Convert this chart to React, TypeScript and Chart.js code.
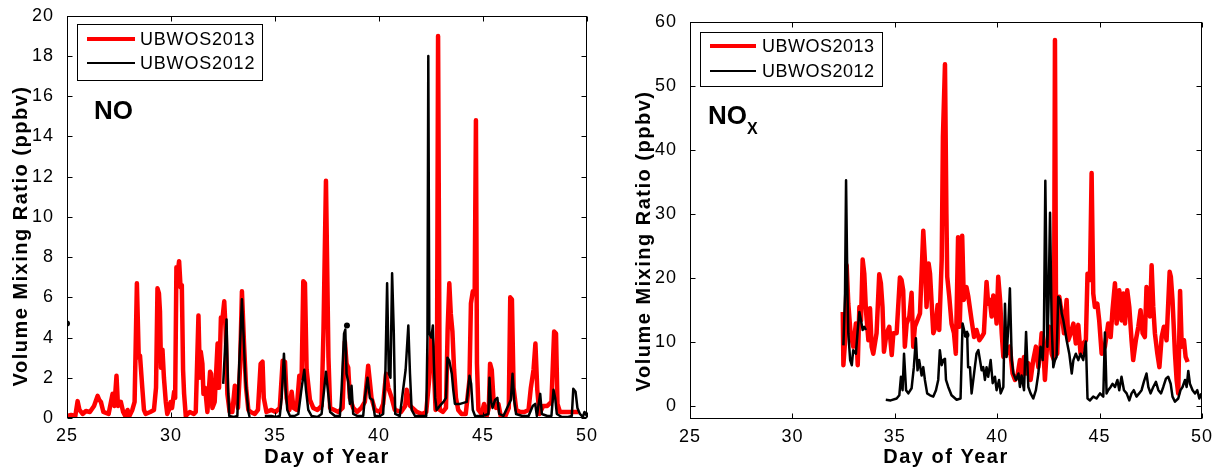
import React, { useEffect, useRef } from "react";
import { Chart, registerables } from "chart.js";

Chart.register(...registerables);

const FONT = "'Liberation Sans', Arial, Helvetica, sans-serif";

type Pt = [number, number | null];

// ---------- shared axis / legend content ----------
const xTicks = [25, 30, 35, 40, 45, 50];
const noYTicks = [0, 2, 4, 6, 8, 10, 12, 14, 16, 18, 20];
const noxYTicks = [0, 10, 20, 30, 40, 50, 60];
const seriesLabels = ["UBWOS2013", "UBWOS2012"];
const xTitleText = "Day of Year";
const yTitleText = "Volume Mixing Ratio (ppbv)";

// ---------- NO (left panel) ----------
const no2013: Pt[] = [
  [25.0, 0.1], [25.2, 0.15], [25.4, 0.1], [25.51, 0.84], [25.6, 0.4], [25.75, 0.2], [25.91, 0.35],
  [26.1, 0.3], [26.3, 0.6], [26.47, 1.1], [26.55, 0.9], [26.63, 0.8], [26.75, 0.3], [27.0, 0.2],
  [27.19, 1.2], [27.28, 0.6], [27.38, 2.1], [27.45, 0.6], [27.59, 0.8], [27.7, 0.3], [27.8, 0.1],
  [27.91, 0.4], [28.0, 0.1], [28.14, 0.4], [28.25, 0.8], [28.36, 6.7], [28.45, 3.0], [28.51, 3.1],
  [28.62, 1.5], [28.7, 0.4], [28.78, 0.2], [29.0, 0.3], [29.18, 0.4], [29.28, 1.5], [29.35, 6.45],
  [29.42, 6.2], [29.47, 5.3], [29.52, 2.5], [29.59, 3.4], [29.66, 2.0], [29.75, 0.8], [29.82, 0.2],
  [29.9, 0.4], [29.98, 0.8], [30.05, 0.5], [30.15, 1.3], [30.2, 1.0], [30.26, 7.5], [30.33, 7.3],
  [30.39, 7.8], [30.46, 6.5], [30.52, 6.6], [30.58, 2.4], [30.63, 1.2], [30.71, 0.1], [30.9, 0.3],
  [31.1, 0.2], [31.19, 0.3], [31.32, 5.1], [31.39, 2.0], [31.43, 3.3], [31.51, 2.7], [31.56, 1.2],
  [31.64, 1.5], [31.75, 0.3], [31.88, 2.3], [31.93, 2.2], [31.99, 0.5], [32.1, 0.8], [32.24, 3.7],
  [32.31, 1.5], [32.4, 5.0], [32.47, 4.9], [32.56, 5.8], [32.63, 4.3], [32.71, 1.2], [32.82, 0.3],
  [32.95, 0.3], [33.07, 1.6], [33.14, 1.5], [33.22, 0.5], [33.32, 2.5], [33.41, 6.3], [33.51, 3.7],
  [33.61, 1.5], [33.72, 0.4], [33.83, 0.3], [34.03, 0.2], [34.18, 0.4], [34.31, 2.7], [34.4, 2.8],
  [34.46, 1.0], [34.59, 0.3], [34.83, 0.4], [35.03, 0.3], [35.23, 0.5], [35.37, 2.85], [35.48, 2.8],
  [35.56, 1.0], [35.69, 0.4], [35.8, 1.3], [35.89, 0.5], [36.04, 0.4], [36.17, 2.1], [36.28, 2.0],
  [36.36, 6.8], [36.44, 6.7], [36.52, 2.4], [36.68, 0.9], [36.84, 0.5], [37.04, 0.4], [37.24, 0.6],
  [37.33, 4.3], [37.45, 11.8], [37.57, 3.0], [37.65, 0.5], [37.85, 0.4], [38.05, 0.3], [38.25, 0.5],
  [38.36, 3.8], [38.44, 2.7], [38.52, 2.5], [38.6, 1.0], [38.76, 0.5], [38.95, 0.3], [39.15, 0.5],
  [39.32, 0.8], [39.48, 2.6], [39.56, 1.8], [39.64, 1.0], [39.8, 0.4], [40.05, 0.3], [40.2, 0.7],
  [40.34, 2.2], [40.45, 1.5], [40.61, 1.0], [40.76, 0.4], [41.06, 0.3], [41.26, 0.6], [41.33, 1.4],
  [41.5, 0.6], [41.82, 0.3], [42.07, 0.2], [42.27, 0.3], [42.42, 2.0], [42.52, 4.2], [42.62, 3.0],
  [42.72, 0.4], [42.79, 3.0], [42.84, 19.0], [42.92, 0.4], [43.07, 0.3], [43.22, 0.5], [43.3, 4.4],
  [43.38, 6.7], [43.45, 5.2], [43.53, 4.3], [43.61, 2.4], [43.7, 1.0], [43.81, 0.4], [43.97, 0.2],
  [44.17, 0.2], [44.35, 1.9], [44.42, 5.7], [44.51, 6.3], [44.6, 6.2], [44.66, 14.8], [44.71, 2.7],
  [44.78, 0.4], [44.93, 0.2], [45.05, 0.7], [45.18, 0.1], [45.28, 0.5], [45.34, 2.7], [45.42, 2.4],
  [45.5, 1.0], [45.63, 0.5], [45.74, 0.7], [45.85, 0.1], [46.08, 0.1], [46.24, 0.5], [46.31, 6.0],
  [46.39, 5.9], [46.47, 1.5], [46.6, 0.4], [46.79, 0.3], [46.99, 0.3], [47.19, 0.4], [47.3, 1.5],
  [47.43, 2.4], [47.52, 3.7], [47.61, 1.4], [47.71, 0.2], [47.89, 0.6], [48.09, 0.6], [48.29, 0.8],
  [48.42, 4.3], [48.51, 4.2], [48.58, 0.7], [48.7, 0.3], [48.99, 0.3], [49.29, 0.3], [49.59, 0.3],
];

const no2012: Pt[] = [
  [32.51, 1.7], [32.6, 3.5], [32.67, 4.9], [32.74, 1.5], [32.8, 0.1], [33.02, 0.05], [33.19, 0.1],
  [33.28, 2.7], [33.41, 5.9], [33.48, 4.3], [33.58, 1.9], [33.72, 0.3], [33.78, 0.05], [34.1, null],
  [34.51, 0.1], [34.83, 0.1], [35.03, 0.05], [35.23, 0.1], [35.32, 1.0], [35.43, 3.2], [35.51, 1.5],
  [35.59, 0.4], [35.72, 0.1], [35.94, 0.1], [36.12, 0.2], [36.28, 1.5], [36.41, 2.4], [36.49, 1.4],
  [36.6, 0.4], [36.76, 0.1], [37.04, 0.05], [37.24, 0.2], [37.36, 1.4], [37.45, 2.3], [37.53, 1.5],
  [37.65, 0.3], [37.88, 0.1], [38.12, 0.1], [38.2, 1.4], [38.32, 4.2], [38.38, 4.4], [38.44, 2.2],
  [38.52, 1.8], [38.6, 0.7], [38.68, 1.6], [38.76, 0.2], [38.95, 0.1], [39.24, 0.1], [39.32, 1.0],
  [39.45, 2.0], [39.56, 1.0], [39.69, 0.9], [39.8, 0.1], [40.05, 0.1], [40.2, 0.2], [40.31, 2.4],
  [40.39, 6.7], [40.47, 2.2], [40.55, 2.0], [40.63, 7.2], [40.71, 4.3], [40.78, 0.2], [41.0, 0.1],
  [41.28, 2.4], [41.41, 4.6], [41.49, 2.2], [41.57, 0.4], [41.73, 0.1], [42.07, 0.1], [42.27, 0.1],
  [42.33, 4.0], [42.37, 18.0], [42.42, 4.2], [42.52, 4.0], [42.59, 4.6], [42.64, 2.7], [42.7, 1.0],
  [42.77, 0.4], [42.92, 0.6], [43.1, 0.8], [43.22, 1.0], [43.29, 3.0], [43.38, 2.85], [43.5, 2.2],
  [43.57, 1.4], [43.65, 0.7], [43.9, 0.7], [44.22, 0.8], [44.35, 2.1], [44.43, 1.7], [44.51, 0.4],
  [44.62, 0.1], [44.98, 0.1], [45.26, 0.2], [45.31, 2.0], [45.37, 0.9], [45.46, 0.5], [45.58, 0.9],
  [45.69, 1.0], [45.78, 0.2], [45.98, 0.1], [46.34, 0.9], [46.42, 2.2], [46.5, 0.9], [46.59, 0.2],
  [46.89, 0.1], [47.19, 0.1], [47.39, 0.6], [47.51, 0.7], [47.59, 0.1], [47.75, 1.2], [47.83, 0.2],
  [48.09, 0.1], [48.29, 0.1], [48.39, 1.4], [48.47, 1.0], [48.55, 0.2], [48.79, 0.05], [49.09, 0.05],
  [49.27, 0.1], [49.34, 1.45], [49.45, 1.3], [49.54, 0.5], [49.66, 0.2], [49.8, 0.05], [49.88, 0.3],
  [50.0, 0.1],
];

const noDots2012: Pt[] = [[25.0, 4.7], [38.46, 4.6]];

// ---------- NOx (right panel) ----------
const nox2013: Pt[] = [
  [32.46, 14.7], [32.49, 6.4], [32.6, 11.4], [32.65, 22.0], [32.73, 16.0], [32.84, 11.4], [32.97, 9.3],
  [33.1, 12.9], [33.19, 6.4], [33.27, 15.5], [33.35, 13.4], [33.43, 22.9], [33.51, 20.7], [33.59, 15.0],
  [33.71, 10.3], [33.79, 15.3], [33.87, 9.3], [33.95, 8.2], [34.11, 11.4], [34.24, 20.6], [34.32, 19.2],
  [34.4, 15.5], [34.47, 8.5], [34.6, 11.4], [34.73, 12.4], [34.85, 8.0], [34.93, 11.4], [35.09, 11.4],
  [35.25, 20.1], [35.33, 19.7], [35.41, 18.1], [35.49, 9.3], [35.58, 12.9], [35.71, 14.0], [35.82, 17.7],
  [35.9, 9.3], [35.98, 12.4], [36.1, 13.4], [36.23, 14.5], [36.39, 27.4], [36.47, 22.8], [36.55, 15.5],
  [36.65, 22.3], [36.72, 20.7], [36.8, 16.0], [36.88, 11.4], [36.99, 12.4], [37.09, 15.8], [37.17, 11.9],
  [37.29, 22.8], [37.35, 42.0], [37.45, 53.4], [37.52, 30.0], [37.56, 20.2], [37.66, 17.1], [37.77, 12.9],
  [37.89, 11.4], [37.98, 8.2], [38.09, 26.4], [38.17, 12.4], [38.29, 26.6], [38.37, 16.6], [38.5, 18.6],
  [38.59, 17.1], [38.75, 13.4], [38.87, 10.8], [38.99, 11.9], [39.13, 10.3], [39.24, 10.8], [39.35, 11.4],
  [39.48, 19.4], [39.56, 16.0], [39.64, 16.6], [39.73, 14.0], [39.81, 17.3], [39.89, 16.6], [39.97, 12.9],
  [40.05, 20.2], [40.14, 16.6], [40.22, 11.4], [40.3, 7.7], [40.46, 8.2], [40.62, 9.3], [40.75, 5.1],
  [40.87, 4.1], [40.98, 4.6], [41.11, 7.2], [41.19, 4.6], [41.31, 7.7], [41.41, 5.1], [41.52, 6.7],
  [41.63, 4.1], [41.76, 7.2], [41.89, 9.3], [42.01, 6.1], [42.09, 8.2], [42.17, 11.4], [42.25, 9.3],
  [42.33, 4.1], [42.45, 10.3], [42.54, 12.4], [42.66, 8.2], [42.77, 7.2], [42.82, 57.2], [42.88, 8.2],
  [42.93, 8.2], [43.03, 17.1], [43.15, 14.5], [43.26, 11.4], [43.39, 16.6], [43.47, 10.3], [43.59, 11.4],
  [43.72, 12.9], [43.84, 9.8], [43.96, 12.7], [44.07, 8.2], [44.2, 9.8], [44.33, 10.3], [44.41, 20.7],
  [44.53, 19.7], [44.61, 36.4], [44.69, 17.6], [44.77, 15.5], [44.89, 16.0], [44.98, 13.4], [45.1, 8.2],
  [45.26, 9.3], [45.42, 12.9], [45.54, 10.8], [45.63, 15.0], [45.75, 19.2], [45.83, 12.9], [45.96, 18.1],
  [46.07, 13.4], [46.16, 17.6], [46.24, 12.9], [46.35, 18.1], [46.45, 15.5], [46.56, 10.3], [46.64, 7.2],
  [46.77, 10.3], [46.89, 12.4], [47.0, 15.0], [47.1, 11.4], [47.21, 10.8], [47.29, 18.6], [47.38, 16.6],
  [47.46, 14.0], [47.54, 22.0], [47.62, 15.5], [47.7, 11.4], [47.82, 8.2], [47.92, 6.1], [48.03, 10.8],
  [48.14, 12.4], [48.27, 10.3], [48.42, 21.0], [48.48, 20.2], [48.56, 16.6], [48.68, 8.2], [48.76, 4.1],
  [48.84, 2.0], [48.93, 18.0], [49.01, 9.3], [49.12, 10.3], [49.2, 7.7], [49.3, 6.9],
];

const nox2012: Pt[] = [
  [32.49, 9.5], [32.57, 17.6], [32.62, 35.3], [32.69, 17.6], [32.73, 11.4], [32.82, 7.2], [32.9, 6.4],
  [32.97, 8.75], [33.1, 8.2], [33.19, 11.9], [33.27, 14.7], [33.35, 13.4], [33.43, 11.9], [33.51, 12.4],
  [33.59, 11.9], [34.1, null], [34.56, 1.0], [34.8, 0.9], [35.09, 1.2], [35.22, 1.7], [35.3, 4.6],
  [35.38, 2.5], [35.45, 8.2], [35.55, 2.5], [35.66, 2.0], [35.82, 2.8], [35.93, 6.1], [36.03, 10.6],
  [36.11, 5.6], [36.19, 7.2], [36.31, 4.8], [36.39, 6.1], [36.47, 4.1], [36.58, 2.0], [36.72, 1.7],
  [36.88, 1.5], [37.01, 2.5], [37.12, 4.1], [37.2, 8.75], [37.29, 6.4], [37.37, 7.2], [37.45, 7.4],
  [37.5, 4.1], [37.61, 3.0], [37.77, 1.7], [38.02, 1.0], [38.21, 1.2], [38.31, 12.9], [38.42, 11.4],
  [38.53, 11.6], [38.58, 6.1], [38.67, 6.1], [38.75, 2.0], [38.87, 5.1], [38.99, 8.2], [39.08, 8.75],
  [39.16, 7.2], [39.24, 5.6], [39.32, 6.1], [39.4, 4.1], [39.48, 6.1], [39.56, 4.6], [39.68, 7.2],
  [39.78, 3.6], [39.89, 4.6], [39.97, 2.5], [40.09, 4.1], [40.17, 2.0], [40.3, 3.0], [40.38, 16.0],
  [40.46, 7.7], [40.54, 12.4], [40.62, 18.4], [40.71, 7.2], [40.79, 5.1], [40.92, 4.1], [41.04, 5.1],
  [41.11, 3.0], [41.19, 4.8], [41.31, 2.5], [41.41, 11.6], [41.52, 3.0], [41.63, 2.0], [41.76, 1.2],
  [41.89, 2.5], [42.01, 5.1], [42.12, 9.3], [42.22, 7.2], [42.28, 11.4], [42.35, 35.2], [42.45, 9.3],
  [42.51, 16.6], [42.58, 30.2], [42.66, 12.4], [42.74, 6.1], [42.82, 7.2], [42.9, 7.7], [42.98, 17.1],
  [43.07, 16.6], [43.15, 14.5], [43.23, 13.4], [43.31, 11.9], [43.39, 10.3], [43.52, 8.2], [43.64, 5.1],
  [43.72, 7.2], [43.84, 8.2], [43.96, 7.2], [44.07, 8.2], [44.2, 7.2], [44.33, 10.1], [44.41, 1.2],
  [44.53, 0.9], [44.69, 1.5], [44.85, 1.2], [45.02, 2.0], [45.18, 1.5], [45.26, 11.5], [45.34, 2.0],
  [45.42, 2.5], [45.54, 3.0], [45.63, 3.5], [45.75, 3.0], [45.87, 4.1], [45.96, 2.5], [46.07, 4.6],
  [46.19, 2.5], [46.32, 2.0], [46.45, 0.9], [46.56, 2.0], [46.67, 2.5], [46.8, 1.5], [46.93, 2.0],
  [47.05, 2.5], [47.16, 3.8], [47.29, 5.1], [47.38, 3.0], [47.49, 2.0], [47.62, 3.0], [47.75, 3.8],
  [47.87, 2.5], [48.0, 2.0], [48.11, 3.0], [48.24, 4.3], [48.35, 4.6], [48.47, 3.5], [48.56, 1.5],
  [48.68, 0.7], [48.84, 1.2], [48.95, 2.5], [49.05, 3.0], [49.17, 4.1], [49.25, 3.0], [49.33, 5.5],
  [49.41, 3.5], [49.54, 2.5], [49.66, 2.0], [49.77, 2.5], [49.87, 1.2], [49.97, 2.0],
];

const noxDots2012: Pt[] = [[38.5, 11.1]];

// ---------- layout configuration ----------
interface PanelCfg {
  width: number;
  height: number;
  area: { left: number; top: number; right: number; bottom: number };
  yMin: number;
  yMax: number;
  yTicks: number[];
  red: Pt[];
  black: Pt[];
  dots: Pt[];
  legend: { x: number; y: number; w: number; h: number; l1: number; l2: number; tx: number; r1: number; r2: number; sp: number };
  species: { text: string; x: number; y: number; sub?: string; subX?: number; subY?: number };
  xTitle: { x: number; y: number };
  yTitle: { x: number; y: number };
}

const leftCfg: PanelCfg = {
  width: 600,
  height: 473,
  area: { left: 67, top: 14, right: 587, bottom: 418 },
  yMin: 0,
  yMax: 20,
  yTicks: noYTicks,
  red: no2013,
  black: no2012,
  dots: noDots2012,
  legend: { x: 77, y: 24, w: 185, h: 56, l1: 87, l2: 135, tx: 140, r1: 39, r2: 63, sp: 0.8 },
  species: { text: "NO", x: 94, y: 119 },
  xTitle: { x: 327, y: 463 },
  yTitle: { x: 21, y: 236 },
};

const rightCfg: PanelCfg = {
  width: 622,
  height: 473,
  area: { left: 90, top: 22, right: 602, bottom: 419 },
  yMin: -2,
  yMax: 60,
  yTicks: noxYTicks,
  red: nox2013,
  black: nox2012,
  dots: noxDots2012,
  legend: { x: 100, y: 32, w: 182, h: 54, l1: 110, l2: 156, tx: 162, r1: 46, r2: 71, sp: 0.5 },
  species: { text: "NO", x: 108, y: 124, sub: "X", subX: 147, subY: 134 },
  xTitle: { x: 346, y: 463 },
  yTitle: { x: 44, y: 241 },
};

const toXY = (arr: Pt[]) => arr.map(([x, y]) => ({ x, y }));

function makeDecor(cfg: PanelCfg) {
  return {
    id: "decor",
    beforeDraw(chart: any) {
      chart.ctx.letterSpacing = "1px";
    },
    afterDraw(chart: any) {
      const ctx = chart.ctx as CanvasRenderingContext2D & { letterSpacing: string };
      const a = chart.chartArea;
      const xs = chart.scales.x;
      const ys = chart.scales.y;
      ctx.save();
      // frame
      ctx.strokeStyle = "#000";
      ctx.lineWidth = 1;
      const L = Math.round(a.left) + 0.5;
      const R = Math.round(a.right) - 0.5;
      const T = Math.round(a.top) + 0.5;
      const B = Math.round(a.bottom) - 0.5;
      ctx.strokeRect(L, T, R - L, B - T);
      // inward ticks
      ctx.beginPath();
      xTicks.forEach((v) => {
        const px = Math.round(xs.getPixelForValue(v)) + 0.5;
        ctx.moveTo(px, B);
        ctx.lineTo(px, B - 5);
        ctx.moveTo(px, T);
        ctx.lineTo(px, T + 5);
      });
      cfg.yTicks.forEach((v) => {
        const py = Math.round(ys.getPixelForValue(v)) + 0.5;
        ctx.moveTo(L, py);
        ctx.lineTo(L + 5, py);
        ctx.moveTo(R, py);
        ctx.lineTo(R - 5, py);
      });
      ctx.stroke();

      // legend
      const lg = cfg.legend;
      ctx.fillStyle = "#fff";
      ctx.fillRect(lg.x, lg.y, lg.w, lg.h);
      ctx.strokeStyle = "#000";
      ctx.lineWidth = 1;
      ctx.strokeRect(lg.x + 0.5, lg.y + 0.5, lg.w, lg.h);
      ctx.lineCap = "butt";
      ctx.strokeStyle = "#ff0000";
      ctx.lineWidth = 4;
      ctx.beginPath();
      ctx.moveTo(lg.l1, lg.r1);
      ctx.lineTo(lg.l2, lg.r1);
      ctx.stroke();
      ctx.strokeStyle = "#000";
      ctx.lineWidth = 2;
      ctx.beginPath();
      ctx.moveTo(lg.l1, lg.r2);
      ctx.lineTo(lg.l2, lg.r2);
      ctx.stroke();
      ctx.fillStyle = "#000";
      ctx.font = `18px ${FONT}`;
      ctx.letterSpacing = `${lg.sp}px`;
      ctx.textAlign = "left";
      ctx.textBaseline = "middle";
      ctx.fillText(seriesLabels[0], lg.tx, lg.r1 + 1);
      ctx.fillText(seriesLabels[1], lg.tx, lg.r2 + 1);

      // species label
      const sp = cfg.species;
      ctx.letterSpacing = "0px";
      ctx.textBaseline = "alphabetic";
      ctx.font = `bold 26px ${FONT}`;
      ctx.fillText(sp.text, sp.x, sp.y);
      if (sp.sub) {
        ctx.font = `bold 16px ${FONT}`;
        ctx.fillText(sp.sub, sp.subX!, sp.subY!);
      }

      // axis titles
      ctx.font = `bold 20px ${FONT}`;
      ctx.letterSpacing = "1.5px";
      ctx.textAlign = "center";
      ctx.textBaseline = "alphabetic";
      ctx.fillText(xTitleText, cfg.xTitle.x, cfg.xTitle.y);
      ctx.save();
      ctx.translate(cfg.yTitle.x, cfg.yTitle.y);
      ctx.rotate(-Math.PI / 2);
      ctx.textBaseline = "middle";
      ctx.fillText(yTitleText, 0, 0);
      ctx.restore();

      ctx.restore();
      ctx.letterSpacing = "0px";
    },
  };
}

function Panel({ cfg, left }: { cfg: PanelCfg; left: number }) {
  const ref = useRef<HTMLCanvasElement>(null);
  useEffect(() => {
    const canvas = ref.current!;
    const tickFont = { family: FONT, size: 18 };
    const chart = new Chart(canvas, {
      type: "line",
      data: {
        datasets: [
          {
            label: "UBWOS2012 points",
            data: toXY(cfg.dots),
            showLine: false,
            pointRadius: 3,
            pointBackgroundColor: "#000",
            pointBorderWidth: 0,
            borderColor: "#000",
            order: 0,
          } as any,
          {
            label: seriesLabels[1],
            data: toXY(cfg.black),
            borderColor: "#000",
            borderWidth: 2.5,
            pointRadius: 0,
            spanGaps: false,
            borderJoinStyle: "round",
            order: 1,
          },
          {
            label: seriesLabels[0],
            data: toXY(cfg.red),
            borderColor: "#ff0000",
            borderWidth: 4.5,
            pointRadius: 0,
            spanGaps: false,
            borderJoinStyle: "round",
            order: 2,
          },
        ],
      },
      options: {
        responsive: false,
        animation: false,
        devicePixelRatio: 1,
        events: [],
        layout: {
          padding: { left: 0, top: cfg.area.top, right: cfg.width - cfg.area.right, bottom: 0 },
        },
        plugins: {
          legend: { display: false },
          tooltip: { enabled: false },
          title: { display: false },
        },
        elements: { line: { tension: 0 }, point: { radius: 0 } },
        scales: {
          x: {
            type: "linear",
            min: 25,
            max: 50,
            afterBuildTicks: (s: any) => {
              s.ticks = xTicks.map((v) => ({ value: v }));
            },
            afterFit: (s: any) => {
              s.height = cfg.height - cfg.area.bottom;
            },
            ticks: { font: tickFont, color: "#000", padding: -1, maxRotation: 0, autoSkip: false },
            grid: { display: false },
            border: { display: false },
          },
          y: {
            type: "linear",
            min: cfg.yMin,
            max: cfg.yMax,
            afterBuildTicks: (s: any) => {
              s.ticks = cfg.yTicks.map((v) => ({ value: v }));
            },
            afterFit: (s: any) => {
              s.width = cfg.area.left;
            },
            ticks: { font: tickFont, color: "#000", padding: 5, autoSkip: false },
            grid: { display: false },
            border: { display: false },
          },
        },
      } as any,
      plugins: [makeDecor(cfg)],
    });
    return () => chart.destroy();
  }, [cfg]);
  return (
    <div style={{ position: "absolute", left, top: 0, width: cfg.width, height: cfg.height }}>
      <canvas ref={ref} width={cfg.width} height={cfg.height} style={{ width: cfg.width, height: cfg.height, display: "block" }} />
    </div>
  );
}

export default function App() {
  return (
    <div style={{ position: "fixed", left: 0, top: 0, width: 1222, height: 473, background: "#fff" }}>
      <Panel cfg={leftCfg} left={0} />
      <Panel cfg={rightCfg} left={600} />
    </div>
  );
}
